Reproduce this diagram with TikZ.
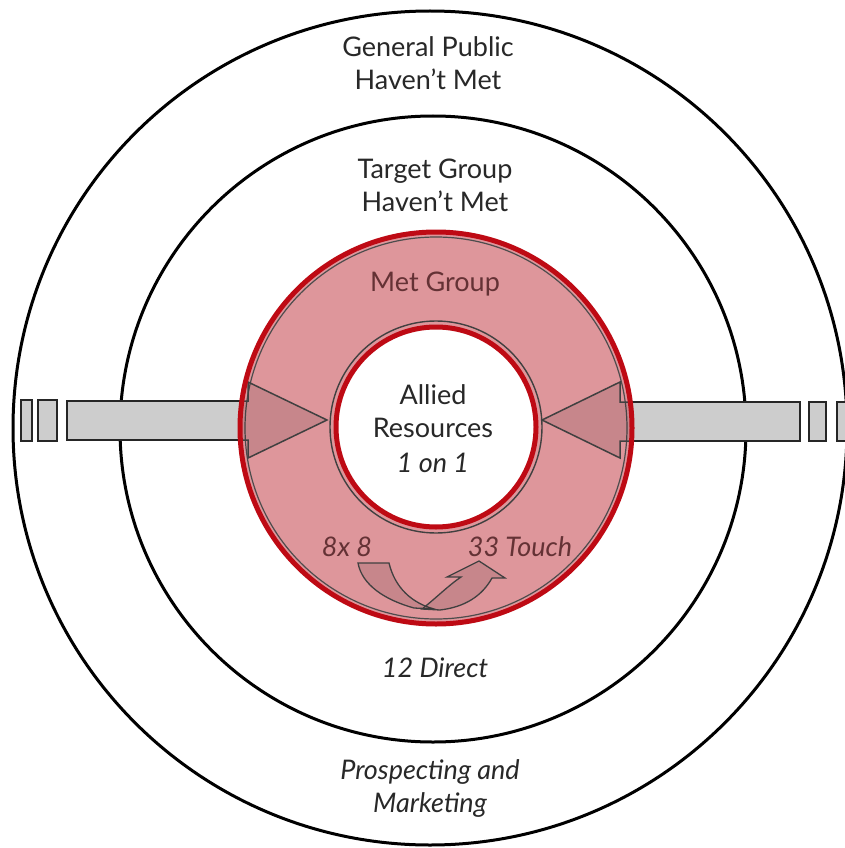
\documentclass[tikz,border=0pt]{standalone}
\usepackage{fontspec}
\setmainfont{Lato}
\definecolor{pinkfill}{RGB}{222,150,155}
\definecolor{redline}{RGB}{190,10,20}
\definecolor{shaftgray}{RGB}{205,205,205}
\definecolor{txt}{RGB}{40,40,40}
\definecolor{redtxt}{RGB}{100,50,53}
\begin{document}
\begin{tikzpicture}[x=1pt,y=-1pt,
  ring/.style={draw=black, line width=3pt},
  shaft/.style={draw=black!85, fill=shaftgray, line width=1.6pt},
  headover/.style={draw=black!75, fill=black, fill opacity=0.1, line width=1.5pt},
  lbl/.style={font=\fontsize{27}{33}\selectfont, text=txt, align=center, inner sep=0pt},
  ilbl/.style={lbl, font=\fontsize{27}{33}\selectfont\itshape},
  redlbl/.style={ilbl, text=redtxt}]
\useasboundingbox (0,0) rectangle (844,848);
\fill[white] (0,0) rectangle (844,848);
% outer rings
\draw[ring] (430,428) circle[radius=417];
\draw[ring] (433,429) circle[radius=313];
% arrows (under red ring)
\draw[shaft] (21,400) rectangle (32,441);
\draw[shaft] (38,400) rectangle (57,441);
\draw[shaft] (67,401) -- (248,401) -- (248,382) -- (327,420) -- (248,458) -- (248,440) -- (67,440) -- cycle;
\draw[shaft] (809,402) rectangle (826,441);
\draw[shaft] (837,402) rectangle (856,441);
\draw[shaft] (800,402) -- (620,402) -- (620,382) -- (542,420) -- (620,458) -- (620,441) -- (800,441) -- cycle;
% met group disk
\fill[pinkfill] (436,428) circle[radius=196];
\draw[black!70, line width=1.2pt] (436,428) circle[radius=191];
% arrow heads over the pink ring
\draw[headover] (240,401) -- (248,401) -- (248,382) -- (327,420) -- (248,458) -- (248,440) -- (240,440);
\draw[headover] (632,402) -- (620,402) -- (620,382) -- (542,420) -- (620,458) -- (620,441) -- (632,441);
% circular arrows
\draw[headover, line width=1.3pt] (358,563) -- (389,563) .. controls (395,588) and (412,603) .. (434,609) -- (414,608) .. controls (385,600) and (362,585) .. (358,563) -- cycle;
\draw[headover, line width=1.3pt] (422,609) .. controls (436,598) and (449,585) .. (461,577) -- (447,577) -- (479,561) -- (505,578) -- (492,578) .. controls (482,596) and (465,607) .. (440,610) -- cycle;
% inner circle
\draw[black!75, line width=1.4pt] (436,427) circle[radius=106];
\fill[white] (436,427) circle[radius=100];
\draw[redline, line width=5pt] (436,427) circle[radius=100];
\draw[redline, line width=5pt] (436,428) circle[radius=196];
% texts
\node[lbl] (gp) at (428,63) {General Public\\Haven’t Met};
\node[lbl] (tg) at (435,185) {Target Group\\Haven’t Met};
\node[lbl, text=redtxt] (mg) at (435,284) {Met Group};
\node[lbl] (ar1) at (433,411) {Allied\\Resources};
\node[ilbl] (ar2) at (433,463) {1 on 1};
\node[redlbl] (e8) at (347,547) {8x 8};
\node[redlbl] (t33) at (520,547) {33 Touch};
\node[ilbl] (d12) at (435,668) {12 Direct};
\node[ilbl] (pm) at (430,789) {Prospecting and\\Marketing};
\end{tikzpicture}
\end{document}
